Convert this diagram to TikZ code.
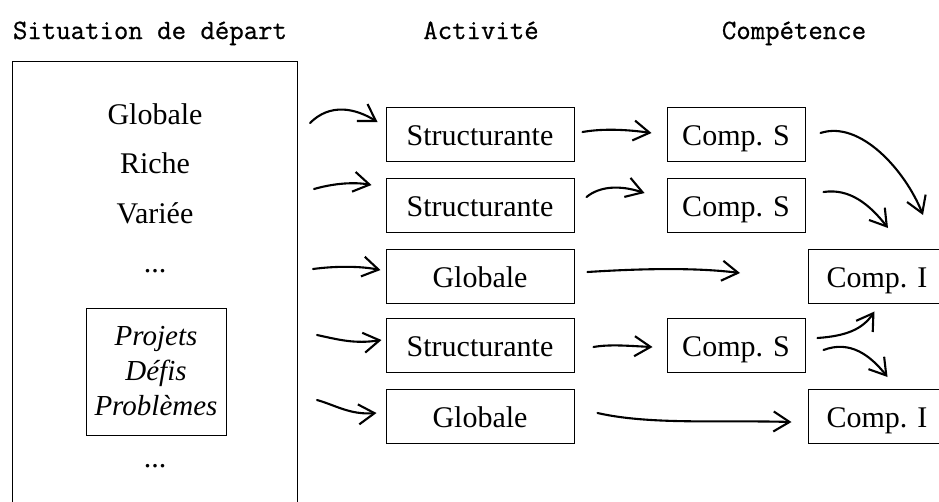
\documentclass[tikz,border=0pt]{standalone}
\usepackage{fontspec}
\setmainfont{Liberation Serif}
\newfontfamily\hdrfont[FakeBold=0.7]{Latin Modern Mono}
\usetikzlibrary{arrows.meta}
\begin{document}
\begin{tikzpicture}[x=1pt,y=-1pt,
  box/.style={draw, line width=1pt, minimum height=54pt, inner sep=0pt, text height=27pt, text depth=5pt, font=\fontsize{30}{34}\selectfont},
  actbox/.style={box, minimum width=188pt},
  compbox/.style={box, minimum width=138pt},
  hdr/.style={font=\hdrfont\fontsize{28}{32}\selectfont, inner sep=0pt, anchor=base},
  txt/.style={font=\fontsize{30}{34}\selectfont, inner sep=0pt, anchor=base},
  arr/.style={line width=2.1pt, line cap=round, -{Straight Barb[length=16pt,width=20pt,line width=2.1pt]}}
]
\useasboundingbox (0,0) rectangle (939,501);
\clip (0,0) rectangle (939,501);

% headers
\node[hdr] (h1) at (150,39) {Situation de départ};
\node[hdr] (h2) at (481,39) {Activité};
\node[hdr] (h3) at (794,39) {Compétence};

% situation box
\node[draw, line width=1pt, minimum width=285pt, minimum height=470pt, anchor=north west, inner sep=0pt] (sit) at (12,61) {};
\node[txt] (t1) at (155,124) {Globale};
\node[txt] (t2) at (155,173) {Riche};
\node[txt] (t3) at (155,223) {Variée};
\node[txt] (t4) at (155,272) {...};
\node[draw, line width=1pt, minimum width=140pt, minimum height=127pt, inner sep=0pt, align=center,
      font=\itshape\fontsize{29}{35}\selectfont] (pdp) at (156,371.5) {Projets\\Défis\\Problèmes};
\node[txt] (t5) at (155,467) {...};

% activity boxes
\node[actbox] (a1) at (480,134) {Structurante};
\node[actbox] (a2) at (480,205.5) {Structurante};
\node[actbox] (a3) at (480,276) {Globale};
\node[actbox] (a4) at (480,345.5) {Structurante};
\node[actbox] (a5) at (480,416.5) {Globale};

% competence boxes
\node[compbox] (c1) at (736,134) {Comp. S};
\node[compbox] (c2) at (736,205.5) {Comp. S};
\node[compbox] (c4) at (736,345.5) {Comp. S};
\node[compbox] (i1) at (877,276) {Comp. I};
\node[compbox] (i2) at (877,416.5) {Comp. I};

% free ends
\coordinate (s1) at (310,123);
\coordinate (s2) at (314,189);
\coordinate (s3) at (313,269);
\coordinate (s4) at (317,335);
\coordinate (s5) at (317,400);
\coordinate (e3) at (740,273);
\coordinate (e1) at (923,215);
\coordinate (e2) at (888,228);

% left arrows
\draw[arr] (s1) .. controls (330,103) and (355,108) .. ([shift={(-8,-12)}]a1.west);
\draw[arr] (s2) .. controls (335,183) and (355,182) .. ([shift={(-14,-20.5)}]a2.west);
\draw[arr] (s3) .. controls (335,266) and (360,266) .. ([shift={(-5,-6)}]a3.west);
\draw[arr] (s4) .. controls (340,340) and (355,344) .. ([shift={(-4,-5.5)}]a4.west);
\draw[arr] (s5) .. controls (335,405) and (350,415) .. ([shift={(-9,-3.5)}]a5.west);

% middle arrows
\draw[arr] ([shift={(8,-2)}]a1.east) .. controls (605,128) and (630,130) .. ([shift={(-15,-1)}]c1.west);
\draw[arr] ([shift={(12,-8.5)}]a2.east) .. controls (600,186) and (620,185) .. ([shift={(-22,-12.5)}]c2.west);
\draw[arr] ([shift={(13,-4)}]a3.east) .. controls (650,268) and (700,268) .. (e3);
\draw[arr] ([shift={(19,1.5)}]a4.east) .. controls (610,344) and (630,346) .. ([shift={(-14,1.5)}]c4.west);
\draw[arr] ([shift={(23,-3.5)}]a5.east) .. controls (650,425) and (720,420) .. ([shift={(-16,5.5)}]i2.west);

% right arrows
\draw[arr] ([shift={(15,-1)}]c1.east) .. controls (860,120) and (905,170) .. (e1);
\draw[arr] ([shift={(18,-13.5)}]c2.east) .. controls (850,188) and (870,205) .. (e2);
\draw[arr] ([shift={(12,-7.5)}]c4.east) .. controls (845,336) and (862,330) .. ([shift={(67,8)}]i1.south west);
\draw[arr] ([shift={(18,4.5)}]c4.east) .. controls (850,340) and (870,355) .. ([shift={(80,-12)}]i2.north west);
\end{tikzpicture}
\end{document}
